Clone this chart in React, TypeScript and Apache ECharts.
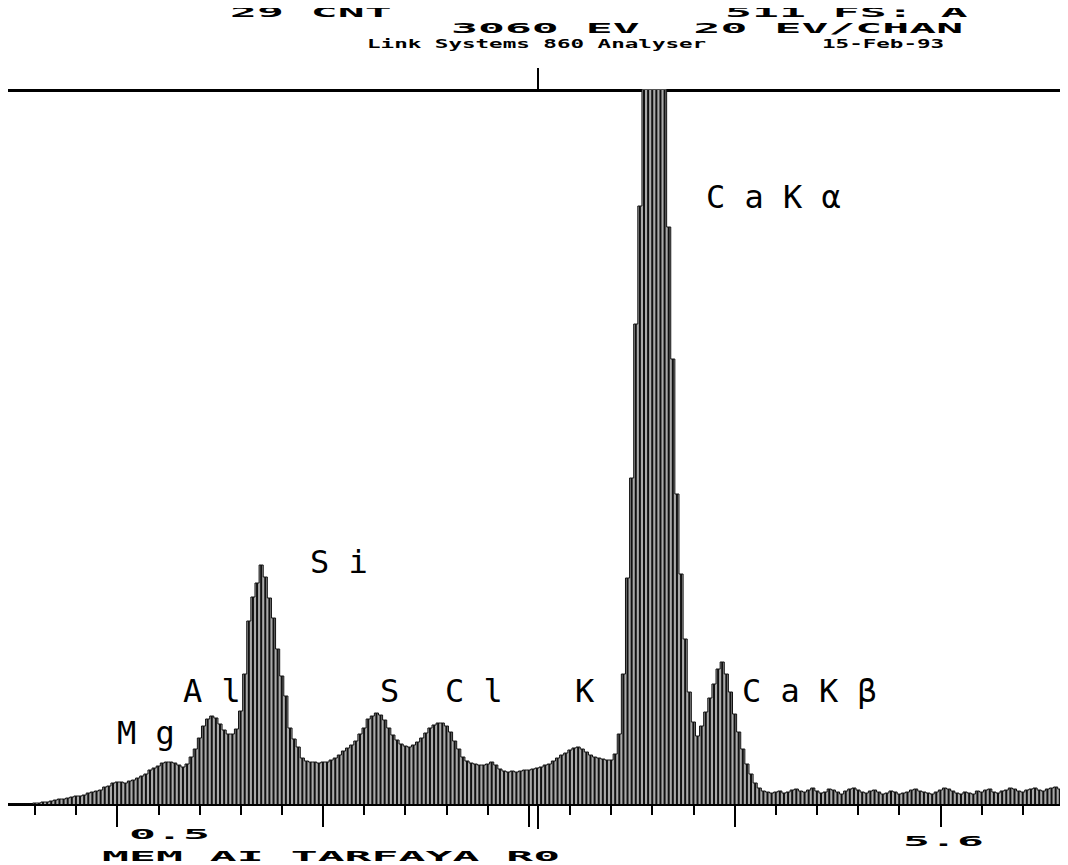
import React, { useEffect, useRef } from "react";
import * as echarts from "echarts";

// ---- spectrum data (20 eV channels starting at 0.48 keV) ----
const START_KEV = 0.48;
const KEV_PER_CHAN = 0.02;
const AXIS_MIN_KEV = 0.47;
const AXIS_MAX_KEV = 5.62;
const Y_MAX = 714;

const COUNTS = [
  0, 0, 0, 0, 0, 0, 1, 1, 2, 2,
  3, 4, 5, 5, 6, 7, 8, 8, 9, 11,
  12, 13, 14, 17, 18, 21, 22, 22, 21, 23,
  24, 26, 28, 30, 34, 36, 38, 41, 42, 42,
  41, 39, 37, 40, 47, 55, 66, 78, 85, 88,
  86, 80, 74, 70, 70, 75, 93, 130, 183, 207,
  221, 239, 227, 206, 186, 155, 128, 108, 76, 65,
  57, 46, 43, 42, 42, 41, 42, 42, 44, 46,
  49, 53, 56, 59, 63, 70, 76, 85, 88, 91,
  89, 84, 76, 69, 64, 60, 58, 57, 59, 62,
  66, 71, 76, 79, 81, 81, 78, 72, 63, 55,
  47, 43, 41, 40, 39, 39, 40, 42, 39, 35,
  33, 32, 33, 32, 33, 34, 34, 35, 36, 37,
  39, 40, 43, 46, 49, 51, 54, 56, 57, 55,
  52, 49, 47, 46, 45, 44, 44, 50, 70, 130,
  226, 326, 480, 598, 760, 820, 850, 830, 790, 730,
  577, 445, 310, 230, 165, 112, 82, 68, 78, 92,
  106, 120, 135, 142, 130, 112, 90, 72, 55, 40,
  30, 21, 16, 13, 12, 11, 12, 13, 11, 12,
  14, 15, 13, 12, 14, 16, 13, 11, 12, 15,
  14, 12, 10, 13, 15, 16, 14, 12, 11, 13,
  14, 12, 10, 11, 13, 12, 10, 11, 12, 14,
  15, 13, 12, 11, 10, 12, 14, 16, 15, 13,
  11, 10, 12, 11, 10, 13, 12, 14, 15, 12,
  11, 13, 14, 16, 15, 13, 12, 14, 15, 16,
  14, 13, 15, 16, 17, 15, 14,
];

// ---- axis ticks (keV) ----
const MINOR_TICKS = [
  0.6, 0.8, 1.2, 1.4, 1.6, 1.8, 2.2, 2.4, 2.6, 2.8, 3.2, 3.4, 3.6, 3.8,
  4.2, 4.4, 4.6, 4.8, 5.2, 5.4, 5.6,
];
const MAJOR_TICKS = [1, 2, 3, 4, 5];
const CURSOR_KEV = [3.045];
const RANGE_LABELS = ["0.5", "5.6"];
const SAMPLE_LABEL = "MEM AI TARFAYA R0";

// ---- header texts ----
const HEADER_LINE1 = ["29 CNT", "511 FS: A"];
const HEADER_LINE2 = ["3060 EV  20 EV/CHAN"];
const HEADER_LINE3 = ["Link Systems 860 Analyser", "15-Feb-93"];

// ---- peak labels ----
const PEAK_NAMES = ["Mg", "Al", "Si", "S", "Cl", "K", "CaKα", "CaKβ"];

// layout (page px)
const W = 1068;
const H = 865;
const PEAK_POS: [number, number][] = [
  [117, 733],
  [183, 691],
  [310, 562],
  [380, 691],
  [445, 691],
  [575, 691],
  [706, 197],
  [742, 691],
];

export default function App() {
  const ref = useRef<HTMLDivElement>(null);

  useEffect(() => {
    if (!ref.current) return;
    const chart = echarts.init(ref.current, null, { renderer: "svg" });

    const data = COUNTS.map((c, i) => [
      +(START_KEV + i * KEV_PER_CHAN).toFixed(2),
      c,
    ]);

    const dotFont = "bold 14px 'DejaVu Sans Mono'";
    const smallFont = "bold 12px 'DejaVu Sans Mono'";
    const labelFont = "32px 'DejaVu Sans Mono'";

    const txt = (
      text: string,
      x: number,
      y: number,
      font: string,
      scaleX = 1
    ) => ({
      type: "text",
      x,
      y,
      scaleX,
      silent: true,
      style: {
        text,
        font,
        fill: "#000",
        textVerticalAlign: "middle",
        verticalAlign: "middle",
      },
    });

    const graphics: any[] = [
      txt(HEADER_LINE1[0], 230, 12, dotFont, 3.2),
      txt(HEADER_LINE1[1], 725, 12, dotFont, 3.2),
      txt(HEADER_LINE2[0], 451, 28, dotFont, 3.2),
      txt(HEADER_LINE3[0], 367, 44, smallFont, 1.88),
      txt(HEADER_LINE3[1], 822, 44, smallFont, 1.88),
      txt(RANGE_LABELS[0], 129, 834, dotFont, 3.2),
      txt(RANGE_LABELS[1], 903, 841, dotFont, 3.2),
      txt(SAMPLE_LABEL, 102, 856, dotFont, 3.2),
    ];
    PEAK_NAMES.forEach((n, i) => {
      graphics.push(
        txt(n.split("").join(" "), PEAK_POS[i][0], PEAK_POS[i][1], labelFont)
      );
    });

    const baseX = {
      type: "value",
      min: AXIS_MIN_KEV,
      max: AXIS_MAX_KEV,
      splitLine: { show: false },
      axisLabel: { show: false },
    };

    chart.setOption({
      animation: false,
      grid: { left: 8, right: 0, top: 90, bottom: H - 804 },
      xAxis: [
        {
          ...baseX,
          position: "bottom",
          axisLine: { show: true, lineStyle: { color: "#000", width: 3 } },
          axisTick: {
            show: true,
            customValues: MINOR_TICKS,
            length: 11,
            lineStyle: { color: "#000", width: 2 },
          },
        },
        {
          ...baseX,
          position: "bottom",
          axisLine: { show: false },
          axisTick: {
            show: true,
            customValues: MAJOR_TICKS,
            length: 23,
            lineStyle: { color: "#000", width: 2 },
          },
        },
        {
          ...baseX,
          position: "bottom",
          axisLine: { show: false },
          axisTick: {
            show: true,
            customValues: CURSOR_KEV,
            length: 25,
            lineStyle: { color: "#000", width: 2 },
          },
        },
        {
          ...baseX,
          position: "top",
          axisLine: { show: true, lineStyle: { color: "#000", width: 3 } },
          axisTick: {
            show: true,
            customValues: CURSOR_KEV,
            length: 22,
            lineStyle: { color: "#000", width: 2 },
          },
        },
      ],
      yAxis: { type: "value", min: 0, max: Y_MAX, show: false },
      series: [
        {
          type: "line",
          step: "middle",
          data,
          symbol: "none",
          clip: true,
          lineStyle: { color: "#111", width: 1 },
          areaStyle: { color: "#a9a9a9", opacity: 1 },
          z: 1,
        },
        {
          type: "bar",
          data,
          barWidth: 2,
          clip: true,
          itemStyle: { color: "#111" },
          z: 2,
        },
      ],
      graphic: graphics,
    });

    return () => chart.dispose();
  }, []);

  return (
    <div
      ref={ref}
      style={{ width: W, height: H, margin: "-8px 0 0 -8px" }}
    />
  );
}
